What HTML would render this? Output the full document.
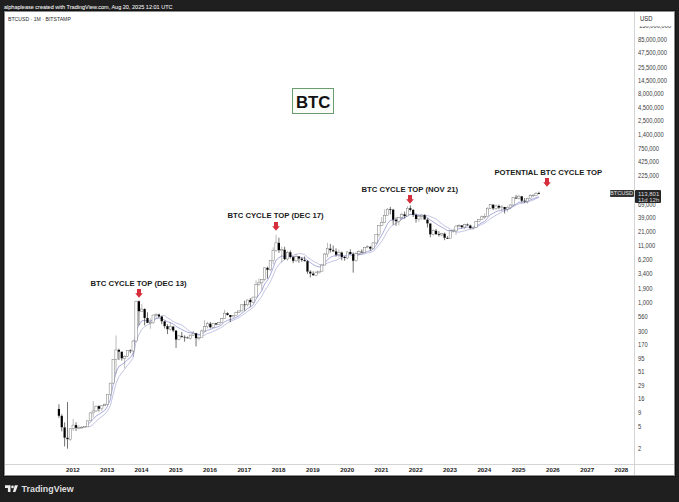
<!DOCTYPE html>
<html><head><meta charset="utf-8">
<style>
html,body{margin:0;padding:0;}
body{width:679px;height:502px;background:#1f1f1f;position:relative;overflow:hidden;font-family:"Liberation Sans", sans-serif;}
.t{position:absolute;white-space:nowrap;line-height:1;}
#panel{position:absolute;left:5px;top:12px;width:669px;height:463px;background:#fff;}
.pl{position:absolute;left:638px;font-size:6.45px;color:#3c3c3c;white-space:nowrap;line-height:1;transform:scaleX(0.9);transform-origin:0 0;}
.yl{position:absolute;top:467.2px;font-size:6.2px;font-weight:bold;color:#222;white-space:nowrap;line-height:1;transform:translateX(-50%);}
.ann{position:absolute;font-size:7.72px;font-weight:bold;color:#1a1a1a;white-space:nowrap;line-height:1;}
</style></head><body>
<div class="t" style="left:4px;top:3.7px;font-size:6.2px;letter-spacing:0px;color:#f4f4f4;-webkit-text-stroke:0.05px #f4f4f4;transform:scaleX(0.893);transform-origin:0 0;">alphaplease created with TradingView.com, Aug 20, 2025 12:01 UTC</div>
<div style="position:absolute;left:3px;top:10px;width:673px;height:467px;background:#121212"></div><div style="position:absolute;left:4px;top:11px;width:671px;height:465px;background:#8c8c8c"></div><div id="panel"></div>
<div class="t" style="left:8px;top:16.9px;font-size:5.7px;color:#2a2a2a;transform:scaleX(0.905);transform-origin:0 0;">BTCUSD · 1M · BITSTAMP</div>
<div style="position:absolute;left:634px;top:12px;width:1px;height:463px;background:#d4d4d4"></div>
<div style="position:absolute;left:5px;top:464px;width:669px;height:1px;background:#d4d4d4"></div>
<svg width="679" height="502" viewBox="0 0 679 502" style="position:absolute;left:0;top:0">
<path d="M87.48,426.87 L90.34,426.42 L93.20,424.43 L96.06,421.23 L98.91,418.73 L101.77,416.53 L104.63,414.49 L107.48,410.99 L110.34,405.67 L113.20,394.28 L116.06,383.51 L118.91,376.72 L121.77,372.84 L124.63,369.23 L127.48,365.31 L130.34,361.97 L133.20,357.53 L136.05,341.28 L138.91,334.80 L141.77,329.36 L144.62,326.65 L147.48,325.00 L150.34,323.40 L153.20,320.97 L156.05,318.75 L158.91,317.02 L161.77,315.79 L164.62,315.15 L167.48,318.02 L170.34,319.43 L173.19,321.51 L176.05,323.05 L178.91,323.99 L181.77,325.02 L184.62,327.14 L187.48,329.59 L190.34,331.73 L193.19,333.10 L196.05,334.29 L198.91,335.10 L201.76,335.62 L204.62,335.15 L207.48,333.50 L210.34,332.66 L213.19,331.30 L216.05,330.10 L218.91,328.72 L221.76,327.14 L224.62,325.01 L227.48,323.04 L230.34,321.48 L233.19,320.19 L236.05,318.87 L238.91,317.65 L241.76,315.48 L244.62,313.72 L247.48,311.35 L250.33,309.59 L253.19,307.49 L256.05,303.80 L258.91,300.20 L261.76,296.40 L264.62,290.83 L267.48,286.82 L270.33,281.67 L273.19,275.36 L276.05,268.51 L278.90,264.73 L281.76,261.37 L284.62,259.56 L287.48,257.48 L290.33,256.08 L293.19,255.15 L296.05,254.38 L298.90,253.72 L301.76,253.68 L304.62,254.57 L307.47,257.20 L310.33,259.10 L313.19,261.31 L316.05,262.38 L318.90,264.27 L321.76,265.13 L324.62,264.28 L327.47,263.12 L330.33,262.03 L333.19,261.01 L336.04,260.35 L338.90,258.75 L341.76,257.61 L344.62,256.55 L347.47,255.07 L350.33,253.95 L353.19,253.68 L356.04,253.66 L358.90,254.00 L361.76,254.23 L364.61,253.80 L367.47,252.99 L370.33,252.61 L373.19,251.20 L376.04,248.61 L378.90,245.05 L381.76,241.25 L384.61,236.28 L387.47,231.11 L390.33,227.03 L393.18,224.94 L396.04,223.32 L398.90,221.43 L401.75,219.31 L404.61,217.70 L407.47,215.63 L410.33,214.34 L413.18,213.76 L416.04,214.05 L418.90,214.76 L421.75,215.32 L424.61,215.30 L427.47,215.45 L430.32,216.50 L433.18,217.70 L436.04,218.97 L438.90,221.39 L441.75,223.72 L444.61,225.76 L447.47,227.44 L450.32,229.08 L453.18,231.06 L456.04,231.92 L458.90,232.16 L461.75,231.47 L464.61,230.80 L467.47,229.98 L470.32,229.41 L473.18,228.86 L476.04,227.44 L478.89,225.82 L481.75,224.45 L484.61,223.13 L487.47,221.08 L490.32,218.69 L493.18,216.94 L496.04,215.15 L498.89,213.64 L501.75,212.01 L504.61,210.74 L507.46,209.67 L510.32,208.50 L513.18,206.68 L516.04,205.09 L518.89,203.88 L521.75,203.51 L524.61,202.90 L527.46,202.18 L530.32,201.09 L533.18,200.03 L536.03,198.69 L538.89,197.56" fill="none" stroke="#a9abd6" stroke-width="0.7"/>
<path d="M87.48,424.97 L90.34,422.00 L93.20,419.34 L96.06,416.05 L98.91,414.40 L101.77,412.41 L104.63,410.53 L107.48,406.35 L110.34,399.50 L113.20,384.25 L116.06,372.26 L118.91,366.44 L121.77,364.57 L124.63,362.65 L127.48,359.69 L130.34,357.67 L133.20,353.24 L136.05,330.37 L138.91,325.10 L141.77,320.88 L144.62,320.27 L147.48,320.76 L150.34,321.14 L153.20,319.78 L156.05,318.63 L158.91,318.18 L161.77,318.78 L164.62,320.07 L167.48,321.64 L170.34,322.56 L173.19,323.95 L176.05,326.34 L178.91,327.96 L181.77,329.49 L184.62,330.90 L187.48,332.19 L190.34,332.74 L193.19,332.85 L196.05,333.83 L198.91,334.54 L201.76,333.78 L204.62,332.18 L207.48,330.21 L210.34,329.59 L213.19,328.18 L216.05,327.38 L218.91,326.36 L221.76,324.62 L224.62,321.84 L227.48,320.30 L230.34,319.59 L233.19,318.72 L236.05,317.31 L238.91,315.89 L241.76,313.21 L244.62,311.27 L247.48,308.53 L250.33,307.12 L253.19,304.73 L256.05,299.08 L258.91,294.81 L261.76,290.82 L264.62,284.06 L267.48,280.43 L270.33,274.91 L273.19,267.62 L276.05,260.12 L278.90,257.76 L281.76,255.91 L284.62,256.50 L287.48,255.58 L290.33,255.88 L293.19,256.79 L296.05,256.71 L298.90,257.08 L301.76,257.64 L304.62,258.30 L307.47,260.42 L310.33,262.53 L313.19,264.58 L316.05,266.01 L318.90,266.96 L321.76,266.57 L324.62,263.46 L327.47,259.62 L330.33,257.41 L333.19,256.07 L336.04,255.80 L338.90,255.09 L341.76,255.46 L344.62,255.95 L347.47,255.10 L350.33,254.89 L353.19,255.95 L356.04,255.51 L358.90,254.70 L361.76,254.24 L364.61,252.72 L367.47,251.42 L370.33,250.84 L373.19,249.02 L376.04,245.34 L378.90,239.84 L381.76,235.20 L384.61,229.63 L387.47,223.85 L390.33,220.22 L393.18,220.12 L396.04,220.34 L398.90,219.69 L401.75,218.52 L404.61,218.00 L407.47,215.68 L410.33,214.40 L413.18,214.47 L416.04,215.31 L418.90,215.51 L421.75,215.44 L424.61,216.20 L427.47,217.48 L430.32,220.02 L433.18,221.80 L436.04,223.81 L438.90,225.66 L441.75,227.06 L444.61,228.84 L447.47,230.51 L450.32,230.59 L453.18,230.66 L456.04,229.65 L458.90,228.73 L461.75,228.40 L464.61,227.55 L467.47,227.12 L470.32,227.34 L473.18,227.33 L476.04,226.02 L478.89,224.57 L481.75,222.80 L484.61,221.44 L487.47,218.13 L490.32,214.74 L493.18,213.33 L496.04,211.66 L498.89,210.79 L501.75,209.98 L504.61,209.80 L507.46,209.31 L510.32,208.39 L513.18,205.81 L516.04,204.13 L518.89,202.32 L521.75,202.00 L524.61,201.86 L527.46,201.08 L530.32,199.91 L533.18,198.89 L536.03,197.68 L538.89,196.85" fill="none" stroke="#7a7ec8" stroke-width="0.65"/>
<g>
<line x1="58.92" y1="404.21" x2="58.92" y2="408.98" stroke="#111" stroke-width="0.6"/><line x1="58.92" y1="415.82" x2="58.92" y2="417.90" stroke="#111" stroke-width="0.6"/><rect x="57.82" y="408.98" width="2.20" height="6.84" fill="#000"/><line x1="61.77" y1="414.18" x2="61.77" y2="415.82" stroke="#111" stroke-width="0.6"/><line x1="61.77" y1="427.34" x2="61.77" y2="431.39" stroke="#111" stroke-width="0.6"/><rect x="60.67" y="415.82" width="2.20" height="11.52" fill="#000"/><line x1="64.63" y1="422.33" x2="64.63" y2="427.34" stroke="#111" stroke-width="0.6"/><line x1="64.63" y1="437.72" x2="64.63" y2="446.45" stroke="#111" stroke-width="0.6"/><rect x="63.53" y="427.34" width="2.20" height="10.39" fill="#000"/><line x1="67.49" y1="402.07" x2="67.49" y2="437.72" stroke="#111" stroke-width="0.6"/><line x1="67.49" y1="439.23" x2="67.49" y2="448.66" stroke="#111" stroke-width="0.6"/><rect x="66.39" y="437.72" width="2.20" height="1.50" fill="#000"/><line x1="70.34" y1="428.29" x2="70.34" y2="428.78" stroke="#666" stroke-width="0.45"/><line x1="70.34" y1="439.23" x2="70.34" y2="440.83" stroke="#666" stroke-width="0.45"/><rect x="69.14" y="428.78" width="2.4" height="10.45" fill="#fff" stroke="#6a6a6a" stroke-width="0.45"/><line x1="73.20" y1="418.85" x2="73.20" y2="425.12" stroke="#666" stroke-width="0.45"/><line x1="73.20" y1="428.78" x2="73.20" y2="430.85" stroke="#666" stroke-width="0.45"/><rect x="72.00" y="425.12" width="2.4" height="3.66" fill="#fff" stroke="#6a6a6a" stroke-width="0.45"/><line x1="76.06" y1="422.33" x2="76.06" y2="425.12" stroke="#111" stroke-width="0.6"/><line x1="76.06" y1="427.81" x2="76.06" y2="430.85" stroke="#111" stroke-width="0.6"/><rect x="74.96" y="425.12" width="2.20" height="2.69" fill="#000"/><line x1="78.91" y1="425.54" x2="78.91" y2="427.41" stroke="#666" stroke-width="0.45"/><line x1="78.91" y1="428.21" x2="78.91" y2="429.28" stroke="#666" stroke-width="0.45"/><rect x="77.71" y="427.41" width="2.4" height="0.80" fill="#fff" stroke="#6a6a6a" stroke-width="0.45"/><line x1="81.77" y1="425.98" x2="81.77" y2="427.17" stroke="#666" stroke-width="0.45"/><line x1="81.77" y1="427.97" x2="81.77" y2="428.78" stroke="#666" stroke-width="0.45"/><rect x="80.57" y="427.17" width="2.4" height="0.80" fill="#fff" stroke="#6a6a6a" stroke-width="0.45"/><line x1="84.63" y1="426.42" x2="84.63" y2="426.70" stroke="#666" stroke-width="0.45"/><line x1="84.63" y1="427.50" x2="84.63" y2="427.81" stroke="#666" stroke-width="0.45"/><rect x="83.43" y="426.70" width="2.4" height="0.80" fill="#fff" stroke="#6a6a6a" stroke-width="0.45"/><line x1="87.48" y1="420.52" x2="87.48" y2="420.87" stroke="#666" stroke-width="0.45"/><line x1="87.48" y1="426.87" x2="87.48" y2="426.87" stroke="#666" stroke-width="0.45"/><rect x="86.28" y="420.87" width="2.4" height="6.00" fill="#fff" stroke="#6a6a6a" stroke-width="0.45"/><line x1="90.34" y1="412.39" x2="90.34" y2="412.89" stroke="#666" stroke-width="0.45"/><line x1="90.34" y1="420.87" x2="90.34" y2="421.23" stroke="#666" stroke-width="0.45"/><rect x="89.14" y="412.89" width="2.4" height="7.98" fill="#fff" stroke="#6a6a6a" stroke-width="0.45"/><line x1="93.20" y1="401.15" x2="93.20" y2="410.97" stroke="#666" stroke-width="0.45"/><line x1="93.20" y1="412.89" x2="93.20" y2="417.59" stroke="#666" stroke-width="0.45"/><rect x="92.00" y="410.97" width="2.4" height="1.92" fill="#fff" stroke="#6a6a6a" stroke-width="0.45"/><line x1="96.06" y1="405.27" x2="96.06" y2="406.19" stroke="#666" stroke-width="0.45"/><line x1="96.06" y1="410.97" x2="96.06" y2="411.91" stroke="#666" stroke-width="0.45"/><rect x="94.86" y="406.19" width="2.4" height="4.78" fill="#fff" stroke="#6a6a6a" stroke-width="0.45"/><line x1="98.91" y1="405.27" x2="98.91" y2="406.19" stroke="#111" stroke-width="0.6"/><line x1="98.91" y1="408.77" x2="98.91" y2="411.43" stroke="#111" stroke-width="0.6"/><rect x="97.81" y="406.19" width="2.20" height="2.58" fill="#000"/><line x1="101.77" y1="405.64" x2="101.77" y2="405.82" stroke="#666" stroke-width="0.45"/><line x1="101.77" y1="408.77" x2="101.77" y2="411.20" stroke="#666" stroke-width="0.45"/><rect x="100.57" y="405.82" width="2.4" height="2.95" fill="#fff" stroke="#6a6a6a" stroke-width="0.45"/><line x1="104.63" y1="403.53" x2="104.63" y2="404.21" stroke="#666" stroke-width="0.45"/><line x1="104.63" y1="405.82" x2="104.63" y2="406.01" stroke="#666" stroke-width="0.45"/><rect x="103.43" y="404.21" width="2.4" height="1.61" fill="#fff" stroke="#6a6a6a" stroke-width="0.45"/><line x1="107.48" y1="394.60" x2="107.48" y2="394.60" stroke="#666" stroke-width="0.45"/><line x1="107.48" y1="404.21" x2="107.48" y2="405.27" stroke="#666" stroke-width="0.45"/><rect x="106.28" y="394.60" width="2.4" height="9.61" fill="#fff" stroke="#6a6a6a" stroke-width="0.45"/><line x1="110.34" y1="383.13" x2="110.34" y2="383.13" stroke="#666" stroke-width="0.45"/><line x1="110.34" y1="394.60" x2="110.34" y2="396.14" stroke="#666" stroke-width="0.45"/><rect x="109.14" y="383.13" width="2.4" height="11.48" fill="#fff" stroke="#6a6a6a" stroke-width="0.45"/><line x1="113.20" y1="358.79" x2="113.20" y2="359.29" stroke="#666" stroke-width="0.45"/><line x1="113.20" y1="383.13" x2="113.20" y2="383.41" stroke="#666" stroke-width="0.45"/><rect x="112.00" y="359.29" width="2.4" height="23.84" fill="#fff" stroke="#6a6a6a" stroke-width="0.45"/><line x1="116.06" y1="335.45" x2="116.06" y2="349.93" stroke="#666" stroke-width="0.45"/><line x1="116.06" y1="359.29" x2="116.06" y2="373.74" stroke="#666" stroke-width="0.45"/><rect x="114.86" y="349.93" width="2.4" height="9.35" fill="#fff" stroke="#6a6a6a" stroke-width="0.45"/><line x1="118.91" y1="348.63" x2="118.91" y2="349.93" stroke="#111" stroke-width="0.6"/><line x1="118.91" y1="351.67" x2="118.91" y2="360.05" stroke="#111" stroke-width="0.6"/><rect x="117.81" y="349.93" width="2.20" height="1.74" fill="#000"/><line x1="121.77" y1="351.67" x2="121.77" y2="351.67" stroke="#111" stroke-width="0.6"/><line x1="121.77" y1="358.31" x2="121.77" y2="360.58" stroke="#111" stroke-width="0.6"/><rect x="120.67" y="351.67" width="2.20" height="6.64" fill="#000"/><line x1="124.63" y1="355.17" x2="124.63" y2="356.24" stroke="#666" stroke-width="0.45"/><line x1="124.63" y1="358.31" x2="124.63" y2="368.36" stroke="#666" stroke-width="0.45"/><rect x="123.43" y="356.24" width="2.4" height="2.07" fill="#fff" stroke="#6a6a6a" stroke-width="0.45"/><line x1="127.48" y1="350.44" x2="127.48" y2="350.61" stroke="#666" stroke-width="0.45"/><line x1="127.48" y1="356.24" x2="127.48" y2="357.14" stroke="#666" stroke-width="0.45"/><rect x="126.28" y="350.61" width="2.4" height="5.63" fill="#fff" stroke="#6a6a6a" stroke-width="0.45"/><line x1="130.34" y1="349.44" x2="130.34" y2="350.39" stroke="#111" stroke-width="0.6"/><line x1="130.34" y1="351.19" x2="130.34" y2="353.36" stroke="#111" stroke-width="0.6"/><rect x="129.24" y="350.39" width="2.20" height="0.80" fill="#000"/><line x1="133.20" y1="339.89" x2="133.20" y2="341.00" stroke="#666" stroke-width="0.45"/><line x1="133.20" y1="350.96" x2="133.20" y2="356.91" stroke="#666" stroke-width="0.45"/><rect x="132.00" y="341.00" width="2.4" height="9.96" fill="#fff" stroke="#6a6a6a" stroke-width="0.45"/><line x1="136.05" y1="300.48" x2="136.05" y2="301.20" stroke="#666" stroke-width="0.45"/><line x1="136.05" y1="341.00" x2="136.05" y2="341.94" stroke="#666" stroke-width="0.45"/><rect x="134.85" y="301.20" width="2.4" height="39.81" fill="#fff" stroke="#6a6a6a" stroke-width="0.45"/><line x1="138.91" y1="300.48" x2="138.91" y2="301.20" stroke="#111" stroke-width="0.6"/><line x1="138.91" y1="311.26" x2="138.91" y2="325.33" stroke="#111" stroke-width="0.6"/><rect x="137.81" y="301.20" width="2.20" height="10.07" fill="#000"/><line x1="141.77" y1="304.00" x2="141.77" y2="309.05" stroke="#666" stroke-width="0.45"/><line x1="141.77" y1="311.26" x2="141.77" y2="311.33" stroke="#666" stroke-width="0.45"/><rect x="140.57" y="309.05" width="2.4" height="2.21" fill="#fff" stroke="#6a6a6a" stroke-width="0.45"/><line x1="144.62" y1="308.34" x2="144.62" y2="309.05" stroke="#111" stroke-width="0.6"/><line x1="144.62" y1="317.96" x2="144.62" y2="325.33" stroke="#111" stroke-width="0.6"/><rect x="143.53" y="309.05" width="2.20" height="8.91" fill="#000"/><line x1="147.48" y1="312.30" x2="147.48" y2="317.96" stroke="#111" stroke-width="0.6"/><line x1="147.48" y1="322.85" x2="147.48" y2="323.11" stroke="#111" stroke-width="0.6"/><rect x="146.38" y="317.96" width="2.20" height="4.89" fill="#000"/><line x1="150.34" y1="318.34" x2="150.34" y2="322.40" stroke="#666" stroke-width="0.45"/><line x1="150.34" y1="323.20" x2="150.34" y2="328.77" stroke="#666" stroke-width="0.45"/><rect x="149.14" y="322.40" width="2.4" height="0.80" fill="#fff" stroke="#6a6a6a" stroke-width="0.45"/><line x1="153.20" y1="314.76" x2="153.20" y2="315.02" stroke="#666" stroke-width="0.45"/><line x1="153.20" y1="322.74" x2="153.20" y2="324.19" stroke="#666" stroke-width="0.45"/><rect x="152.00" y="315.02" width="2.4" height="7.73" fill="#fff" stroke="#6a6a6a" stroke-width="0.45"/><line x1="156.05" y1="312.98" x2="156.05" y2="314.36" stroke="#666" stroke-width="0.45"/><line x1="156.05" y1="315.16" x2="156.05" y2="317.92" stroke="#666" stroke-width="0.45"/><rect x="154.85" y="314.36" width="2.4" height="0.80" fill="#fff" stroke="#6a6a6a" stroke-width="0.45"/><line x1="158.91" y1="313.67" x2="158.91" y2="314.50" stroke="#111" stroke-width="0.6"/><line x1="158.91" y1="316.48" x2="158.91" y2="317.50" stroke="#111" stroke-width="0.6"/><rect x="157.81" y="314.50" width="2.20" height="1.98" fill="#000"/><line x1="161.77" y1="315.89" x2="161.77" y2="316.48" stroke="#111" stroke-width="0.6"/><line x1="161.77" y1="321.33" x2="161.77" y2="324.19" stroke="#111" stroke-width="0.6"/><rect x="160.67" y="316.48" width="2.20" height="4.85" fill="#000"/><line x1="164.62" y1="320.61" x2="164.62" y2="321.33" stroke="#111" stroke-width="0.6"/><line x1="164.62" y1="326.10" x2="164.62" y2="328.44" stroke="#111" stroke-width="0.6"/><rect x="163.52" y="321.33" width="2.20" height="4.77" fill="#000"/><line x1="167.48" y1="324.19" x2="167.48" y2="326.10" stroke="#111" stroke-width="0.6"/><line x1="167.48" y1="329.25" x2="167.48" y2="334.05" stroke="#111" stroke-width="0.6"/><rect x="166.38" y="326.10" width="2.20" height="3.15" fill="#000"/><line x1="170.34" y1="322.08" x2="170.34" y2="326.65" stroke="#666" stroke-width="0.45"/><line x1="170.34" y1="329.25" x2="170.34" y2="330.52" stroke="#666" stroke-width="0.45"/><rect x="169.14" y="326.65" width="2.4" height="2.60" fill="#fff" stroke="#6a6a6a" stroke-width="0.45"/><line x1="173.19" y1="325.92" x2="173.19" y2="326.65" stroke="#111" stroke-width="0.6"/><line x1="173.19" y1="330.52" x2="173.19" y2="332.03" stroke="#111" stroke-width="0.6"/><rect x="172.09" y="326.65" width="2.20" height="3.88" fill="#000"/><line x1="176.05" y1="330.52" x2="176.05" y2="330.52" stroke="#111" stroke-width="0.6"/><line x1="176.05" y1="339.57" x2="176.05" y2="347.85" stroke="#111" stroke-width="0.6"/><rect x="174.95" y="330.52" width="2.20" height="9.04" fill="#000"/><line x1="178.91" y1="334.91" x2="178.91" y2="335.90" stroke="#666" stroke-width="0.45"/><line x1="178.91" y1="339.57" x2="178.91" y2="340.33" stroke="#666" stroke-width="0.45"/><rect x="177.71" y="335.90" width="2.4" height="3.66" fill="#fff" stroke="#6a6a6a" stroke-width="0.45"/><line x1="181.77" y1="332.03" x2="181.77" y2="335.90" stroke="#111" stroke-width="0.6"/><line x1="181.77" y1="336.84" x2="181.77" y2="337.71" stroke="#111" stroke-width="0.6"/><rect x="180.67" y="335.90" width="2.20" height="0.93" fill="#000"/><line x1="184.62" y1="335.36" x2="184.62" y2="336.82" stroke="#111" stroke-width="0.6"/><line x1="184.62" y1="337.62" x2="184.62" y2="341.70" stroke="#111" stroke-width="0.6"/><rect x="183.52" y="336.82" width="2.20" height="0.80" fill="#000"/><line x1="187.48" y1="336.55" x2="187.48" y2="337.51" stroke="#111" stroke-width="0.6"/><line x1="187.48" y1="338.31" x2="187.48" y2="338.41" stroke="#111" stroke-width="0.6"/><rect x="186.38" y="337.51" width="2.20" height="0.80" fill="#000"/><line x1="190.34" y1="334.65" x2="190.34" y2="335.09" stroke="#666" stroke-width="0.45"/><line x1="190.34" y1="338.21" x2="190.34" y2="339.78" stroke="#666" stroke-width="0.45"/><rect x="189.14" y="335.09" width="2.4" height="3.12" fill="#fff" stroke="#6a6a6a" stroke-width="0.45"/><line x1="193.19" y1="330.67" x2="193.19" y2="333.30" stroke="#666" stroke-width="0.45"/><line x1="193.19" y1="335.09" x2="193.19" y2="336.08" stroke="#666" stroke-width="0.45"/><rect x="191.99" y="333.30" width="2.4" height="1.79" fill="#fff" stroke="#6a6a6a" stroke-width="0.45"/><line x1="196.05" y1="332.82" x2="196.05" y2="333.30" stroke="#111" stroke-width="0.6"/><line x1="196.05" y1="338.21" x2="196.05" y2="346.37" stroke="#111" stroke-width="0.6"/><rect x="194.95" y="333.30" width="2.20" height="4.91" fill="#000"/><line x1="198.91" y1="336.74" x2="198.91" y2="337.51" stroke="#666" stroke-width="0.45"/><line x1="198.91" y1="338.31" x2="198.91" y2="340.33" stroke="#666" stroke-width="0.45"/><rect x="197.71" y="337.51" width="2.4" height="0.80" fill="#fff" stroke="#6a6a6a" stroke-width="0.45"/><line x1="201.76" y1="329.53" x2="201.76" y2="330.96" stroke="#666" stroke-width="0.45"/><line x1="201.76" y1="337.61" x2="201.76" y2="337.71" stroke="#666" stroke-width="0.45"/><rect x="200.56" y="330.96" width="2.4" height="6.65" fill="#fff" stroke="#6a6a6a" stroke-width="0.45"/><line x1="204.62" y1="320.04" x2="204.62" y2="326.71" stroke="#666" stroke-width="0.45"/><line x1="204.62" y1="330.96" x2="204.62" y2="331.26" stroke="#666" stroke-width="0.45"/><rect x="203.42" y="326.71" width="2.4" height="4.26" fill="#fff" stroke="#6a6a6a" stroke-width="0.45"/><line x1="207.48" y1="321.77" x2="207.48" y2="323.65" stroke="#666" stroke-width="0.45"/><line x1="207.48" y1="326.71" x2="207.48" y2="328.44" stroke="#666" stroke-width="0.45"/><rect x="206.28" y="323.65" width="2.4" height="3.06" fill="#fff" stroke="#6a6a6a" stroke-width="0.45"/><line x1="210.34" y1="321.98" x2="210.34" y2="323.65" stroke="#111" stroke-width="0.6"/><line x1="210.34" y1="327.27" x2="210.34" y2="328.44" stroke="#111" stroke-width="0.6"/><rect x="209.24" y="323.65" width="2.20" height="3.62" fill="#000"/><line x1="213.19" y1="322.85" x2="213.19" y2="323.27" stroke="#666" stroke-width="0.45"/><line x1="213.19" y1="327.27" x2="213.19" y2="327.78" stroke="#666" stroke-width="0.45"/><rect x="211.99" y="323.27" width="2.4" height="4.00" fill="#fff" stroke="#6a6a6a" stroke-width="0.45"/><line x1="216.05" y1="323.11" x2="216.05" y2="323.27" stroke="#111" stroke-width="0.6"/><line x1="216.05" y1="324.42" x2="216.05" y2="325.33" stroke="#111" stroke-width="0.6"/><rect x="214.95" y="323.27" width="2.20" height="1.15" fill="#000"/><line x1="218.91" y1="321.72" x2="218.91" y2="322.69" stroke="#666" stroke-width="0.45"/><line x1="218.91" y1="324.42" x2="218.91" y2="324.47" stroke="#666" stroke-width="0.45"/><rect x="217.71" y="322.69" width="2.4" height="1.73" fill="#fff" stroke="#6a6a6a" stroke-width="0.45"/><line x1="221.76" y1="317.92" x2="221.76" y2="318.73" stroke="#666" stroke-width="0.45"/><line x1="221.76" y1="322.69" x2="221.76" y2="323.32" stroke="#666" stroke-width="0.45"/><rect x="220.56" y="318.73" width="2.4" height="3.96" fill="#fff" stroke="#6a6a6a" stroke-width="0.45"/><line x1="224.62" y1="309.78" x2="224.62" y2="313.18" stroke="#666" stroke-width="0.45"/><line x1="224.62" y1="318.73" x2="224.62" y2="318.78" stroke="#666" stroke-width="0.45"/><rect x="223.42" y="313.18" width="2.4" height="5.55" fill="#fff" stroke="#6a6a6a" stroke-width="0.45"/><line x1="227.48" y1="312.30" x2="227.48" y2="313.18" stroke="#111" stroke-width="0.6"/><line x1="227.48" y1="314.98" x2="227.48" y2="315.51" stroke="#111" stroke-width="0.6"/><rect x="226.38" y="313.18" width="2.20" height="1.79" fill="#000"/><line x1="230.34" y1="314.94" x2="230.34" y2="314.98" stroke="#111" stroke-width="0.6"/><line x1="230.34" y1="316.96" x2="230.34" y2="322.08" stroke="#111" stroke-width="0.6"/><rect x="229.24" y="314.98" width="2.20" height="1.98" fill="#000"/><line x1="233.19" y1="315.13" x2="233.19" y2="315.54" stroke="#666" stroke-width="0.45"/><line x1="233.19" y1="316.96" x2="233.19" y2="317.09" stroke="#666" stroke-width="0.45"/><rect x="231.99" y="315.54" width="2.4" height="1.42" fill="#fff" stroke="#6a6a6a" stroke-width="0.45"/><line x1="236.05" y1="311.65" x2="236.05" y2="312.37" stroke="#666" stroke-width="0.45"/><line x1="236.05" y1="315.54" x2="236.05" y2="315.70" stroke="#666" stroke-width="0.45"/><rect x="234.85" y="312.37" width="2.4" height="3.18" fill="#fff" stroke="#6a6a6a" stroke-width="0.45"/><line x1="238.91" y1="310.45" x2="238.91" y2="310.95" stroke="#666" stroke-width="0.45"/><line x1="238.91" y1="312.37" x2="238.91" y2="312.88" stroke="#666" stroke-width="0.45"/><rect x="237.71" y="310.95" width="2.4" height="1.42" fill="#fff" stroke="#6a6a6a" stroke-width="0.45"/><line x1="241.76" y1="304.47" x2="241.76" y2="304.81" stroke="#666" stroke-width="0.45"/><line x1="241.76" y1="310.95" x2="241.76" y2="311.01" stroke="#666" stroke-width="0.45"/><rect x="240.56" y="304.81" width="2.4" height="6.14" fill="#fff" stroke="#6a6a6a" stroke-width="0.45"/><line x1="244.62" y1="300.75" x2="244.62" y2="304.42" stroke="#111" stroke-width="0.6"/><line x1="244.62" y1="305.22" x2="244.62" y2="310.70" stroke="#111" stroke-width="0.6"/><rect x="243.52" y="304.42" width="2.20" height="0.80" fill="#000"/><line x1="247.48" y1="299.76" x2="247.48" y2="299.95" stroke="#666" stroke-width="0.45"/><line x1="247.48" y1="304.83" x2="247.48" y2="306.20" stroke="#666" stroke-width="0.45"/><rect x="246.28" y="299.95" width="2.4" height="4.88" fill="#fff" stroke="#6a6a6a" stroke-width="0.45"/><line x1="250.33" y1="298.07" x2="250.33" y2="299.95" stroke="#111" stroke-width="0.6"/><line x1="250.33" y1="302.21" x2="250.33" y2="306.71" stroke="#111" stroke-width="0.6"/><rect x="249.23" y="299.95" width="2.20" height="2.26" fill="#000"/><line x1="253.19" y1="297.01" x2="253.19" y2="297.05" stroke="#666" stroke-width="0.45"/><line x1="253.19" y1="302.21" x2="253.19" y2="302.64" stroke="#666" stroke-width="0.45"/><rect x="251.99" y="297.05" width="2.4" height="5.16" fill="#fff" stroke="#6a6a6a" stroke-width="0.45"/><line x1="256.05" y1="280.37" x2="256.05" y2="284.61" stroke="#666" stroke-width="0.45"/><line x1="256.05" y1="297.05" x2="256.05" y2="297.08" stroke="#666" stroke-width="0.45"/><rect x="254.85" y="284.61" width="2.4" height="12.44" fill="#fff" stroke="#6a6a6a" stroke-width="0.45"/><line x1="258.91" y1="278.58" x2="258.91" y2="282.86" stroke="#666" stroke-width="0.45"/><line x1="258.91" y1="284.61" x2="258.91" y2="285.65" stroke="#666" stroke-width="0.45"/><rect x="257.71" y="282.86" width="2.4" height="1.75" fill="#fff" stroke="#6a6a6a" stroke-width="0.45"/><line x1="261.76" y1="279.06" x2="261.76" y2="279.46" stroke="#666" stroke-width="0.45"/><line x1="261.76" y1="282.86" x2="261.76" y2="289.93" stroke="#666" stroke-width="0.45"/><rect x="260.56" y="279.46" width="2.4" height="3.40" fill="#fff" stroke="#6a6a6a" stroke-width="0.45"/><line x1="264.62" y1="267.73" x2="264.62" y2="267.83" stroke="#666" stroke-width="0.45"/><line x1="264.62" y1="279.46" x2="264.62" y2="281.14" stroke="#666" stroke-width="0.45"/><rect x="263.42" y="267.83" width="2.4" height="11.63" fill="#fff" stroke="#6a6a6a" stroke-width="0.45"/><line x1="267.48" y1="266.63" x2="267.48" y2="267.83" stroke="#111" stroke-width="0.6"/><line x1="267.48" y1="269.83" x2="267.48" y2="278.58" stroke="#111" stroke-width="0.6"/><rect x="266.38" y="267.83" width="2.20" height="2.00" fill="#000"/><line x1="270.33" y1="260.54" x2="270.33" y2="260.64" stroke="#666" stroke-width="0.45"/><line x1="270.33" y1="269.83" x2="270.33" y2="271.15" stroke="#666" stroke-width="0.45"/><rect x="269.13" y="260.64" width="2.4" height="9.19" fill="#fff" stroke="#6a6a6a" stroke-width="0.45"/><line x1="273.19" y1="247.35" x2="273.19" y2="250.63" stroke="#666" stroke-width="0.45"/><line x1="273.19" y1="260.64" x2="273.19" y2="264.32" stroke="#666" stroke-width="0.45"/><rect x="271.99" y="250.63" width="2.4" height="10.01" fill="#fff" stroke="#6a6a6a" stroke-width="0.45"/><line x1="276.05" y1="234.66" x2="276.05" y2="242.82" stroke="#666" stroke-width="0.45"/><line x1="276.05" y1="250.63" x2="276.05" y2="251.59" stroke="#666" stroke-width="0.45"/><rect x="274.85" y="242.82" width="2.4" height="7.82" fill="#fff" stroke="#6a6a6a" stroke-width="0.45"/><line x1="278.90" y1="237.78" x2="278.90" y2="242.82" stroke="#111" stroke-width="0.6"/><line x1="278.90" y1="250.17" x2="278.90" y2="252.85" stroke="#111" stroke-width="0.6"/><rect x="277.80" y="242.82" width="2.20" height="7.35" fill="#000"/><line x1="281.76" y1="246.55" x2="281.76" y2="249.54" stroke="#666" stroke-width="0.45"/><line x1="281.76" y1="250.34" x2="281.76" y2="262.68" stroke="#666" stroke-width="0.45"/><rect x="280.56" y="249.54" width="2.4" height="0.80" fill="#fff" stroke="#6a6a6a" stroke-width="0.45"/><line x1="284.62" y1="246.75" x2="284.62" y2="249.71" stroke="#111" stroke-width="0.6"/><line x1="284.62" y1="259.04" x2="284.62" y2="260.07" stroke="#111" stroke-width="0.6"/><rect x="283.52" y="249.71" width="2.20" height="9.33" fill="#000"/><line x1="287.48" y1="250.99" x2="287.48" y2="252.21" stroke="#666" stroke-width="0.45"/><line x1="287.48" y1="259.04" x2="287.48" y2="260.72" stroke="#666" stroke-width="0.45"/><rect x="286.28" y="252.21" width="2.4" height="6.82" fill="#fff" stroke="#6a6a6a" stroke-width="0.45"/><line x1="290.33" y1="250.40" x2="290.33" y2="252.21" stroke="#111" stroke-width="0.6"/><line x1="290.33" y1="257.10" x2="290.33" y2="258.60" stroke="#111" stroke-width="0.6"/><rect x="289.23" y="252.21" width="2.20" height="4.88" fill="#000"/><line x1="293.19" y1="256.24" x2="293.19" y2="257.10" stroke="#111" stroke-width="0.6"/><line x1="293.19" y1="260.83" x2="293.19" y2="263.16" stroke="#111" stroke-width="0.6"/><rect x="292.09" y="257.10" width="2.20" height="3.73" fill="#000"/><line x1="296.05" y1="254.18" x2="296.05" y2="256.39" stroke="#666" stroke-width="0.45"/><line x1="296.05" y1="260.83" x2="296.05" y2="261.91" stroke="#666" stroke-width="0.45"/><rect x="294.85" y="256.39" width="2.4" height="4.43" fill="#fff" stroke="#6a6a6a" stroke-width="0.45"/><line x1="298.90" y1="256.30" x2="298.90" y2="256.39" stroke="#111" stroke-width="0.6"/><line x1="298.90" y1="258.64" x2="298.90" y2="262.76" stroke="#111" stroke-width="0.6"/><rect x="297.80" y="256.39" width="2.20" height="2.24" fill="#000"/><line x1="301.76" y1="257.41" x2="301.76" y2="258.64" stroke="#111" stroke-width="0.6"/><line x1="301.76" y1="260.04" x2="301.76" y2="261.79" stroke="#111" stroke-width="0.6"/><rect x="300.66" y="258.64" width="2.20" height="1.40" fill="#000"/><line x1="304.62" y1="256.54" x2="304.62" y2="260.04" stroke="#111" stroke-width="0.6"/><line x1="304.62" y1="261.16" x2="304.62" y2="261.53" stroke="#111" stroke-width="0.6"/><rect x="303.52" y="260.04" width="2.20" height="1.12" fill="#000"/><line x1="307.47" y1="260.18" x2="307.47" y2="261.16" stroke="#111" stroke-width="0.6"/><line x1="307.47" y1="271.61" x2="307.47" y2="273.86" stroke="#111" stroke-width="0.6"/><rect x="306.37" y="261.16" width="2.20" height="10.46" fill="#000"/><line x1="310.33" y1="270.26" x2="310.33" y2="271.61" stroke="#111" stroke-width="0.6"/><line x1="310.33" y1="273.61" x2="310.33" y2="277.44" stroke="#111" stroke-width="0.6"/><rect x="309.23" y="271.61" width="2.20" height="1.99" fill="#000"/><line x1="313.19" y1="271.33" x2="313.19" y2="273.61" stroke="#111" stroke-width="0.6"/><line x1="313.19" y1="275.24" x2="313.19" y2="275.86" stroke="#111" stroke-width="0.6"/><rect x="312.09" y="273.61" width="2.20" height="1.63" fill="#000"/><line x1="316.05" y1="270.59" x2="316.05" y2="272.86" stroke="#666" stroke-width="0.45"/><line x1="316.05" y1="275.24" x2="316.05" y2="275.51" stroke="#666" stroke-width="0.45"/><rect x="314.85" y="272.86" width="2.4" height="2.38" fill="#fff" stroke="#6a6a6a" stroke-width="0.45"/><line x1="318.90" y1="270.99" x2="318.90" y2="271.15" stroke="#666" stroke-width="0.45"/><line x1="318.90" y1="272.86" x2="318.90" y2="273.54" stroke="#666" stroke-width="0.45"/><rect x="317.70" y="271.15" width="2.4" height="1.71" fill="#fff" stroke="#6a6a6a" stroke-width="0.45"/><line x1="321.76" y1="263.90" x2="321.76" y2="265.09" stroke="#666" stroke-width="0.45"/><line x1="321.76" y1="271.15" x2="321.76" y2="271.44" stroke="#666" stroke-width="0.45"/><rect x="320.56" y="265.09" width="2.4" height="6.06" fill="#fff" stroke="#6a6a6a" stroke-width="0.45"/><line x1="324.62" y1="252.85" x2="324.62" y2="254.02" stroke="#666" stroke-width="0.45"/><line x1="324.62" y1="265.09" x2="324.62" y2="265.09" stroke="#666" stroke-width="0.45"/><rect x="323.42" y="254.02" width="2.4" height="11.07" fill="#fff" stroke="#6a6a6a" stroke-width="0.45"/><line x1="327.47" y1="242.77" x2="327.47" y2="248.57" stroke="#666" stroke-width="0.45"/><line x1="327.47" y1="254.02" x2="327.47" y2="257.25" stroke="#666" stroke-width="0.45"/><rect x="326.27" y="248.57" width="2.4" height="5.45" fill="#fff" stroke="#6a6a6a" stroke-width="0.45"/><line x1="330.33" y1="243.94" x2="330.33" y2="248.57" stroke="#111" stroke-width="0.6"/><line x1="330.33" y1="250.21" x2="330.33" y2="252.60" stroke="#111" stroke-width="0.6"/><rect x="329.23" y="248.57" width="2.20" height="1.65" fill="#000"/><line x1="333.19" y1="245.52" x2="333.19" y2="250.21" stroke="#111" stroke-width="0.6"/><line x1="333.19" y1="251.35" x2="333.19" y2="252.04" stroke="#111" stroke-width="0.6"/><rect x="332.09" y="250.21" width="2.20" height="1.14" fill="#000"/><line x1="336.04" y1="248.35" x2="336.04" y2="251.35" stroke="#111" stroke-width="0.6"/><line x1="336.04" y1="254.77" x2="336.04" y2="256.45" stroke="#111" stroke-width="0.6"/><rect x="334.94" y="251.35" width="2.20" height="3.42" fill="#000"/><line x1="338.90" y1="249.55" x2="338.90" y2="252.47" stroke="#666" stroke-width="0.45"/><line x1="338.90" y1="254.77" x2="338.90" y2="257.73" stroke="#666" stroke-width="0.45"/><rect x="337.70" y="252.47" width="2.4" height="2.30" fill="#fff" stroke="#6a6a6a" stroke-width="0.45"/><line x1="341.76" y1="251.59" x2="341.76" y2="252.47" stroke="#111" stroke-width="0.6"/><line x1="341.76" y1="256.97" x2="341.76" y2="260.25" stroke="#111" stroke-width="0.6"/><rect x="340.66" y="252.47" width="2.20" height="4.51" fill="#000"/><line x1="344.62" y1="256.33" x2="344.62" y2="256.97" stroke="#111" stroke-width="0.6"/><line x1="344.62" y1="258.05" x2="344.62" y2="260.68" stroke="#111" stroke-width="0.6"/><rect x="343.51" y="256.97" width="2.20" height="1.07" fill="#000"/><line x1="347.47" y1="251.40" x2="347.47" y2="251.96" stroke="#666" stroke-width="0.45"/><line x1="347.47" y1="258.05" x2="347.47" y2="259.21" stroke="#666" stroke-width="0.45"/><rect x="346.27" y="251.96" width="2.4" height="6.08" fill="#fff" stroke="#6a6a6a" stroke-width="0.45"/><line x1="350.33" y1="249.26" x2="350.33" y2="251.96" stroke="#111" stroke-width="0.6"/><line x1="350.33" y1="254.07" x2="350.33" y2="254.32" stroke="#111" stroke-width="0.6"/><rect x="349.23" y="251.96" width="2.20" height="2.11" fill="#000"/><line x1="353.19" y1="252.39" x2="353.19" y2="254.07" stroke="#111" stroke-width="0.6"/><line x1="353.19" y1="260.75" x2="353.19" y2="272.62" stroke="#111" stroke-width="0.6"/><rect x="352.09" y="254.07" width="2.20" height="6.68" fill="#000"/><line x1="356.04" y1="251.72" x2="356.04" y2="253.83" stroke="#666" stroke-width="0.45"/><line x1="356.04" y1="260.75" x2="356.04" y2="261.72" stroke="#666" stroke-width="0.45"/><rect x="354.84" y="253.83" width="2.4" height="6.92" fill="#fff" stroke="#6a6a6a" stroke-width="0.45"/><line x1="358.90" y1="250.21" x2="358.90" y2="251.72" stroke="#666" stroke-width="0.45"/><line x1="358.90" y1="253.83" x2="358.90" y2="255.28" stroke="#666" stroke-width="0.45"/><rect x="357.70" y="251.72" width="2.4" height="2.11" fill="#fff" stroke="#6a6a6a" stroke-width="0.45"/><line x1="361.76" y1="249.42" x2="361.76" y2="251.71" stroke="#111" stroke-width="0.6"/><line x1="361.76" y1="252.51" x2="361.76" y2="253.11" stroke="#111" stroke-width="0.6"/><rect x="360.66" y="251.71" width="2.20" height="0.80" fill="#000"/><line x1="364.61" y1="247.25" x2="364.61" y2="247.45" stroke="#666" stroke-width="0.45"/><line x1="364.61" y1="252.49" x2="364.61" y2="252.98" stroke="#666" stroke-width="0.45"/><rect x="363.41" y="247.45" width="2.4" height="5.04" fill="#fff" stroke="#6a6a6a" stroke-width="0.45"/><line x1="367.47" y1="245.24" x2="367.47" y2="246.75" stroke="#666" stroke-width="0.45"/><line x1="367.47" y1="247.55" x2="367.47" y2="248.22" stroke="#666" stroke-width="0.45"/><rect x="366.27" y="246.75" width="2.4" height="0.80" fill="#fff" stroke="#6a6a6a" stroke-width="0.45"/><line x1="370.33" y1="246.04" x2="370.33" y2="246.84" stroke="#111" stroke-width="0.6"/><line x1="370.33" y1="248.65" x2="370.33" y2="250.75" stroke="#111" stroke-width="0.6"/><rect x="369.23" y="246.84" width="2.20" height="1.81" fill="#000"/><line x1="373.19" y1="242.42" x2="373.19" y2="242.90" stroke="#666" stroke-width="0.45"/><line x1="373.19" y1="248.65" x2="373.19" y2="249.55" stroke="#666" stroke-width="0.45"/><rect x="371.99" y="242.90" width="2.4" height="5.75" fill="#fff" stroke="#6a6a6a" stroke-width="0.45"/><line x1="376.04" y1="234.85" x2="376.04" y2="234.62" stroke="#666" stroke-width="0.45"/><line x1="376.04" y1="242.90" x2="376.04" y2="243.94" stroke="#666" stroke-width="0.45"/><rect x="374.84" y="234.62" width="2.4" height="8.29" fill="#fff" stroke="#6a6a6a" stroke-width="0.45"/><line x1="378.90" y1="225.38" x2="378.90" y2="225.62" stroke="#666" stroke-width="0.45"/><line x1="378.90" y1="234.62" x2="378.90" y2="237.28" stroke="#666" stroke-width="0.45"/><rect x="377.70" y="225.62" width="2.4" height="8.99" fill="#fff" stroke="#6a6a6a" stroke-width="0.45"/><line x1="381.76" y1="217.02" x2="381.76" y2="222.54" stroke="#666" stroke-width="0.45"/><line x1="381.76" y1="225.62" x2="381.76" y2="226.35" stroke="#666" stroke-width="0.45"/><rect x="380.56" y="222.54" width="2.4" height="3.09" fill="#fff" stroke="#6a6a6a" stroke-width="0.45"/><line x1="384.61" y1="209.36" x2="384.61" y2="215.28" stroke="#666" stroke-width="0.45"/><line x1="384.61" y1="222.54" x2="384.61" y2="223.11" stroke="#666" stroke-width="0.45"/><rect x="383.41" y="215.28" width="2.4" height="7.25" fill="#fff" stroke="#6a6a6a" stroke-width="0.45"/><line x1="387.47" y1="208.00" x2="387.47" y2="209.16" stroke="#666" stroke-width="0.45"/><line x1="387.47" y1="215.28" x2="387.47" y2="215.39" stroke="#666" stroke-width="0.45"/><rect x="386.27" y="209.16" width="2.4" height="6.12" fill="#fff" stroke="#6a6a6a" stroke-width="0.45"/><line x1="390.33" y1="206.86" x2="390.33" y2="208.98" stroke="#111" stroke-width="0.6"/><line x1="390.33" y1="209.78" x2="390.33" y2="214.38" stroke="#111" stroke-width="0.6"/><rect x="389.23" y="208.98" width="2.20" height="0.80" fill="#000"/><line x1="393.18" y1="208.89" x2="393.18" y2="209.60" stroke="#111" stroke-width="0.6"/><line x1="393.18" y1="219.76" x2="393.18" y2="224.83" stroke="#111" stroke-width="0.6"/><rect x="392.08" y="209.60" width="2.20" height="10.16" fill="#000"/><line x1="396.04" y1="217.39" x2="396.04" y2="219.76" stroke="#111" stroke-width="0.6"/><line x1="396.04" y1="221.24" x2="396.04" y2="225.78" stroke="#111" stroke-width="0.6"/><rect x="394.94" y="219.76" width="2.20" height="1.48" fill="#000"/><line x1="398.90" y1="216.83" x2="398.90" y2="217.27" stroke="#666" stroke-width="0.45"/><line x1="398.90" y1="221.24" x2="398.90" y2="225.38" stroke="#666" stroke-width="0.45"/><rect x="397.70" y="217.27" width="2.4" height="3.97" fill="#fff" stroke="#6a6a6a" stroke-width="0.45"/><line x1="401.75" y1="212.70" x2="401.75" y2="214.33" stroke="#666" stroke-width="0.45"/><line x1="401.75" y1="217.27" x2="401.75" y2="219.76" stroke="#666" stroke-width="0.45"/><rect x="400.56" y="214.33" width="2.4" height="2.95" fill="#fff" stroke="#6a6a6a" stroke-width="0.45"/><line x1="404.61" y1="211.62" x2="404.61" y2="214.33" stroke="#111" stroke-width="0.6"/><line x1="404.61" y1="216.02" x2="404.61" y2="218.36" stroke="#111" stroke-width="0.6"/><rect x="403.51" y="214.33" width="2.20" height="1.69" fill="#000"/><line x1="407.47" y1="206.12" x2="407.47" y2="208.19" stroke="#666" stroke-width="0.45"/><line x1="407.47" y1="216.02" x2="407.47" y2="216.28" stroke="#666" stroke-width="0.45"/><rect x="406.27" y="208.19" width="2.4" height="7.82" fill="#fff" stroke="#6a6a6a" stroke-width="0.45"/><line x1="410.33" y1="205.44" x2="410.33" y2="208.19" stroke="#111" stroke-width="0.6"/><line x1="410.33" y1="209.89" x2="410.33" y2="211.45" stroke="#111" stroke-width="0.6"/><rect x="409.23" y="208.19" width="2.20" height="1.69" fill="#000"/><line x1="413.18" y1="209.04" x2="413.18" y2="209.89" stroke="#111" stroke-width="0.6"/><line x1="413.18" y1="214.78" x2="413.18" y2="216.99" stroke="#111" stroke-width="0.6"/><rect x="412.08" y="209.89" width="2.20" height="4.89" fill="#000"/><line x1="416.04" y1="213.89" x2="416.04" y2="214.78" stroke="#111" stroke-width="0.6"/><line x1="416.04" y1="219.02" x2="416.04" y2="222.68" stroke="#111" stroke-width="0.6"/><rect x="414.94" y="214.78" width="2.20" height="4.24" fill="#000"/><line x1="418.90" y1="214.98" x2="418.90" y2="216.34" stroke="#666" stroke-width="0.45"/><line x1="418.90" y1="219.02" x2="418.90" y2="221.71" stroke="#666" stroke-width="0.45"/><rect x="417.70" y="216.34" width="2.4" height="2.68" fill="#fff" stroke="#6a6a6a" stroke-width="0.45"/><line x1="421.75" y1="213.79" x2="421.75" y2="215.13" stroke="#666" stroke-width="0.45"/><line x1="421.75" y1="216.34" x2="421.75" y2="219.88" stroke="#666" stroke-width="0.45"/><rect x="420.55" y="215.13" width="2.4" height="1.21" fill="#fff" stroke="#6a6a6a" stroke-width="0.45"/><line x1="424.61" y1="214.18" x2="424.61" y2="215.13" stroke="#111" stroke-width="0.6"/><line x1="424.61" y1="219.51" x2="424.61" y2="219.51" stroke="#111" stroke-width="0.6"/><rect x="423.51" y="215.13" width="2.20" height="4.38" fill="#000"/><line x1="427.47" y1="218.19" x2="427.47" y2="219.51" stroke="#111" stroke-width="0.6"/><line x1="427.47" y1="223.47" x2="427.47" y2="227.54" stroke="#111" stroke-width="0.6"/><rect x="426.37" y="219.51" width="2.20" height="3.96" fill="#000"/><line x1="430.32" y1="223.40" x2="430.32" y2="223.47" stroke="#111" stroke-width="0.6"/><line x1="430.32" y1="234.38" x2="430.32" y2="237.24" stroke="#111" stroke-width="0.6"/><rect x="429.22" y="223.47" width="2.20" height="10.91" fill="#000"/><line x1="433.18" y1="229.35" x2="433.18" y2="230.71" stroke="#666" stroke-width="0.45"/><line x1="433.18" y1="234.38" x2="433.18" y2="235.71" stroke="#666" stroke-width="0.45"/><rect x="431.98" y="230.71" width="2.4" height="3.67" fill="#fff" stroke="#6a6a6a" stroke-width="0.45"/><line x1="436.04" y1="228.88" x2="436.04" y2="230.71" stroke="#111" stroke-width="0.6"/><line x1="436.04" y1="234.26" x2="436.04" y2="234.74" stroke="#111" stroke-width="0.6"/><rect x="434.94" y="230.71" width="2.20" height="3.56" fill="#000"/><line x1="438.90" y1="231.21" x2="438.90" y2="234.22" stroke="#111" stroke-width="0.6"/><line x1="438.90" y1="235.02" x2="438.90" y2="236.59" stroke="#111" stroke-width="0.6"/><rect x="437.80" y="234.22" width="2.20" height="0.80" fill="#000"/><line x1="441.75" y1="233.13" x2="441.75" y2="233.69" stroke="#666" stroke-width="0.45"/><line x1="441.75" y1="234.97" x2="441.75" y2="236.46" stroke="#666" stroke-width="0.45"/><rect x="440.55" y="233.69" width="2.4" height="1.28" fill="#fff" stroke="#6a6a6a" stroke-width="0.45"/><line x1="444.61" y1="232.58" x2="444.61" y2="233.69" stroke="#111" stroke-width="0.6"/><line x1="444.61" y1="237.78" x2="444.61" y2="240.20" stroke="#111" stroke-width="0.6"/><rect x="443.51" y="233.69" width="2.20" height="4.09" fill="#000"/><line x1="447.47" y1="236.21" x2="447.47" y2="237.78" stroke="#111" stroke-width="0.6"/><line x1="447.47" y1="238.74" x2="447.47" y2="239.03" stroke="#111" stroke-width="0.6"/><rect x="446.37" y="237.78" width="2.20" height="0.97" fill="#000"/><line x1="450.32" y1="230.12" x2="450.32" y2="230.91" stroke="#666" stroke-width="0.45"/><line x1="450.32" y1="238.74" x2="450.32" y2="238.74" stroke="#666" stroke-width="0.45"/><rect x="449.12" y="230.91" width="2.4" height="7.83" fill="#fff" stroke="#6a6a6a" stroke-width="0.45"/><line x1="453.18" y1="228.79" x2="453.18" y2="230.51" stroke="#666" stroke-width="0.45"/><line x1="453.18" y1="231.31" x2="453.18" y2="232.69" stroke="#666" stroke-width="0.45"/><rect x="451.98" y="230.51" width="2.4" height="0.80" fill="#fff" stroke="#6a6a6a" stroke-width="0.45"/><line x1="456.04" y1="225.46" x2="456.04" y2="226.02" stroke="#666" stroke-width="0.45"/><line x1="456.04" y1="230.91" x2="456.04" y2="234.74" stroke="#666" stroke-width="0.45"/><rect x="454.84" y="226.02" width="2.4" height="4.89" fill="#fff" stroke="#6a6a6a" stroke-width="0.45"/><line x1="458.90" y1="224.06" x2="458.90" y2="225.30" stroke="#666" stroke-width="0.45"/><line x1="458.90" y1="226.10" x2="458.90" y2="227.37" stroke="#666" stroke-width="0.45"/><rect x="457.70" y="225.30" width="2.4" height="0.80" fill="#fff" stroke="#6a6a6a" stroke-width="0.45"/><line x1="461.75" y1="224.98" x2="461.75" y2="225.38" stroke="#111" stroke-width="0.6"/><line x1="461.75" y1="227.11" x2="461.75" y2="228.34" stroke="#111" stroke-width="0.6"/><rect x="460.65" y="225.38" width="2.20" height="1.73" fill="#000"/><line x1="464.61" y1="223.76" x2="464.61" y2="224.44" stroke="#666" stroke-width="0.45"/><line x1="464.61" y1="227.11" x2="464.61" y2="229.26" stroke="#666" stroke-width="0.45"/><rect x="463.41" y="224.44" width="2.4" height="2.67" fill="#fff" stroke="#6a6a6a" stroke-width="0.45"/><line x1="467.47" y1="223.47" x2="467.47" y2="224.44" stroke="#111" stroke-width="0.6"/><line x1="467.47" y1="225.46" x2="467.47" y2="225.70" stroke="#111" stroke-width="0.6"/><rect x="466.37" y="224.44" width="2.20" height="1.01" fill="#000"/><line x1="470.32" y1="224.67" x2="470.32" y2="225.46" stroke="#111" stroke-width="0.6"/><line x1="470.32" y1="228.25" x2="470.32" y2="228.79" stroke="#111" stroke-width="0.6"/><rect x="469.22" y="225.46" width="2.20" height="2.79" fill="#000"/><line x1="473.18" y1="226.85" x2="473.18" y2="227.28" stroke="#666" stroke-width="0.45"/><line x1="473.18" y1="228.25" x2="473.18" y2="229.16" stroke="#666" stroke-width="0.45"/><rect x="471.98" y="227.28" width="2.4" height="0.97" fill="#fff" stroke="#6a6a6a" stroke-width="0.45"/><line x1="476.04" y1="221.24" x2="476.04" y2="221.44" stroke="#666" stroke-width="0.45"/><line x1="476.04" y1="227.28" x2="476.04" y2="227.63" stroke="#666" stroke-width="0.45"/><rect x="474.84" y="221.44" width="2.4" height="5.84" fill="#fff" stroke="#6a6a6a" stroke-width="0.45"/><line x1="478.89" y1="219.08" x2="478.89" y2="219.51" stroke="#666" stroke-width="0.45"/><line x1="478.89" y1="221.44" x2="478.89" y2="221.84" stroke="#666" stroke-width="0.45"/><rect x="477.69" y="219.51" width="2.4" height="1.93" fill="#fff" stroke="#6a6a6a" stroke-width="0.45"/><line x1="481.75" y1="215.54" x2="481.75" y2="216.83" stroke="#666" stroke-width="0.45"/><line x1="481.75" y1="219.51" x2="481.75" y2="219.57" stroke="#666" stroke-width="0.45"/><rect x="480.55" y="216.83" width="2.4" height="2.68" fill="#fff" stroke="#6a6a6a" stroke-width="0.45"/><line x1="484.61" y1="213.41" x2="484.61" y2="216.35" stroke="#666" stroke-width="0.45"/><line x1="484.61" y1="217.15" x2="484.61" y2="219.02" stroke="#666" stroke-width="0.45"/><rect x="483.41" y="216.35" width="2.4" height="0.80" fill="#fff" stroke="#6a6a6a" stroke-width="0.45"/><line x1="487.47" y1="207.19" x2="487.47" y2="208.23" stroke="#666" stroke-width="0.45"/><line x1="487.47" y1="216.66" x2="487.47" y2="217.05" stroke="#666" stroke-width="0.45"/><rect x="486.27" y="208.23" width="2.4" height="8.43" fill="#fff" stroke="#6a6a6a" stroke-width="0.45"/><line x1="490.32" y1="203.87" x2="490.32" y2="204.67" stroke="#666" stroke-width="0.45"/><line x1="490.32" y1="208.23" x2="490.32" y2="209.08" stroke="#666" stroke-width="0.45"/><rect x="489.12" y="204.67" width="2.4" height="3.56" fill="#fff" stroke="#6a6a6a" stroke-width="0.45"/><line x1="493.18" y1="204.19" x2="493.18" y2="204.67" stroke="#111" stroke-width="0.6"/><line x1="493.18" y1="208.42" x2="493.18" y2="210.09" stroke="#111" stroke-width="0.6"/><rect x="492.08" y="204.67" width="2.20" height="3.75" fill="#000"/><line x1="496.04" y1="204.45" x2="496.04" y2="205.95" stroke="#666" stroke-width="0.45"/><line x1="496.04" y1="208.42" x2="496.04" y2="210.05" stroke="#666" stroke-width="0.45"/><rect x="494.84" y="205.95" width="2.4" height="2.47" fill="#fff" stroke="#6a6a6a" stroke-width="0.45"/><line x1="498.89" y1="204.45" x2="498.89" y2="205.95" stroke="#111" stroke-width="0.6"/><line x1="498.89" y1="207.63" x2="498.89" y2="209.28" stroke="#111" stroke-width="0.6"/><rect x="497.79" y="205.95" width="2.20" height="1.68" fill="#000"/><line x1="501.75" y1="205.10" x2="501.75" y2="206.90" stroke="#666" stroke-width="0.45"/><line x1="501.75" y1="207.70" x2="501.75" y2="211.36" stroke="#666" stroke-width="0.45"/><rect x="500.55" y="206.90" width="2.4" height="0.80" fill="#fff" stroke="#6a6a6a" stroke-width="0.45"/><line x1="504.61" y1="206.83" x2="504.61" y2="206.97" stroke="#111" stroke-width="0.6"/><line x1="504.61" y1="209.12" x2="504.61" y2="213.41" stroke="#111" stroke-width="0.6"/><rect x="503.51" y="206.97" width="2.20" height="2.15" fill="#000"/><line x1="507.46" y1="206.30" x2="507.46" y2="207.44" stroke="#666" stroke-width="0.45"/><line x1="507.46" y1="209.12" x2="507.46" y2="211.76" stroke="#666" stroke-width="0.45"/><rect x="506.26" y="207.44" width="2.4" height="1.68" fill="#fff" stroke="#6a6a6a" stroke-width="0.45"/><line x1="510.32" y1="203.94" x2="510.32" y2="205.04" stroke="#666" stroke-width="0.45"/><line x1="510.32" y1="207.44" x2="510.32" y2="209.12" stroke="#666" stroke-width="0.45"/><rect x="509.12" y="205.04" width="2.4" height="2.41" fill="#fff" stroke="#6a6a6a" stroke-width="0.45"/><line x1="513.18" y1="196.89" x2="513.18" y2="197.65" stroke="#666" stroke-width="0.45"/><line x1="513.18" y1="205.04" x2="513.18" y2="206.19" stroke="#666" stroke-width="0.45"/><rect x="511.98" y="197.65" width="2.4" height="7.38" fill="#fff" stroke="#6a6a6a" stroke-width="0.45"/><line x1="516.04" y1="194.94" x2="516.04" y2="197.62" stroke="#111" stroke-width="0.6"/><line x1="516.04" y1="198.42" x2="516.04" y2="199.12" stroke="#111" stroke-width="0.6"/><rect x="514.94" y="197.62" width="2.20" height="0.80" fill="#000"/><line x1="518.89" y1="194.71" x2="518.89" y2="196.25" stroke="#666" stroke-width="0.45"/><line x1="518.89" y1="198.39" x2="518.89" y2="199.46" stroke="#666" stroke-width="0.45"/><rect x="517.69" y="196.25" width="2.4" height="2.14" fill="#fff" stroke="#6a6a6a" stroke-width="0.45"/><line x1="521.75" y1="196.23" x2="521.75" y2="196.25" stroke="#111" stroke-width="0.6"/><line x1="521.75" y1="200.78" x2="521.75" y2="202.52" stroke="#111" stroke-width="0.6"/><rect x="520.65" y="196.25" width="2.20" height="4.53" fill="#000"/><line x1="524.61" y1="197.99" x2="524.61" y2="200.63" stroke="#111" stroke-width="0.6"/><line x1="524.61" y1="201.43" x2="524.61" y2="203.01" stroke="#111" stroke-width="0.6"/><rect x="523.51" y="200.63" width="2.20" height="0.80" fill="#000"/><line x1="527.46" y1="197.80" x2="527.46" y2="198.19" stroke="#666" stroke-width="0.45"/><line x1="527.46" y1="201.28" x2="527.46" y2="203.68" stroke="#666" stroke-width="0.45"/><rect x="526.26" y="198.19" width="2.4" height="3.09" fill="#fff" stroke="#6a6a6a" stroke-width="0.45"/><line x1="530.32" y1="194.18" x2="530.32" y2="195.75" stroke="#666" stroke-width="0.45"/><line x1="530.32" y1="198.19" x2="530.32" y2="198.41" stroke="#666" stroke-width="0.45"/><rect x="529.12" y="195.75" width="2.4" height="2.44" fill="#fff" stroke="#6a6a6a" stroke-width="0.45"/><line x1="533.18" y1="194.45" x2="533.18" y2="195.08" stroke="#666" stroke-width="0.45"/><line x1="533.18" y1="195.88" x2="533.18" y2="197.22" stroke="#666" stroke-width="0.45"/><rect x="531.98" y="195.08" width="2.4" height="0.80" fill="#fff" stroke="#6a6a6a" stroke-width="0.45"/><line x1="536.03" y1="191.94" x2="536.03" y2="193.41" stroke="#666" stroke-width="0.45"/><line x1="536.03" y1="195.20" x2="536.03" y2="195.64" stroke="#666" stroke-width="0.45"/><rect x="534.83" y="193.41" width="2.4" height="1.80" fill="#fff" stroke="#6a6a6a" stroke-width="0.45"/><line x1="538.89" y1="191.70" x2="538.89" y2="193.20" stroke="#111" stroke-width="0.6"/><line x1="538.89" y1="194.00" x2="538.89" y2="194.18" stroke="#111" stroke-width="0.6"/><rect x="537.79" y="193.20" width="2.20" height="0.80" fill="#000"/>
</g>
</svg>
<div class="pl" style="top:36.9px">85,000,000</div>
<div class="pl" style="top:50.3px">47,500,000</div>
<div class="pl" style="top:64.6px">25,500,000</div>
<div class="pl" style="top:77.9px">14,500,000</div>
<div class="pl" style="top:91.4px">8,000,000</div>
<div class="pl" style="top:104.9px">4,500,000</div>
<div class="pl" style="top:118.4px">2,500,000</div>
<div class="pl" style="top:131.9px">1,400,000</div>
<div class="pl" style="top:145.9px">750,000</div>
<div class="pl" style="top:159.4px">425,000</div>
<div class="pl" style="top:173.4px">225,000</div>
<div class="pl" style="top:201.9px">69,000</div>
<div class="pl" style="top:215.4px">39,000</div>
<div class="pl" style="top:229.4px">21,000</div>
<div class="pl" style="top:243.4px">11,000</div>
<div class="pl" style="top:257.4px">6,200</div>
<div class="pl" style="top:271.4px">3,400</div>
<div class="pl" style="top:285.5px">1,900</div>
<div class="pl" style="top:300.4px">1,000</div>
<div class="pl" style="top:314.4px">560</div>
<div class="pl" style="top:329.0px">300</div>
<div class="pl" style="top:342.4px">170</div>
<div class="pl" style="top:355.9px">95</div>
<div class="pl" style="top:369.4px">51</div>
<div class="pl" style="top:382.9px">29</div>
<div class="pl" style="top:396.4px">16</div>
<div class="pl" style="top:409.9px">9</div>
<div class="pl" style="top:423.9px">5</div>
<div class="pl" style="top:445.8px">2</div>
<div style="position:absolute;left:636px;top:25.5px;width:38px;height:4px;overflow:hidden"><div class="pl" style="left:3px;top:-2.5px">150,000,000</div></div>
<div class="pl" style="top:15.9px;left:639.8px;font-size:6.5px;color:#333;-webkit-text-stroke:0.05px #333">USD</div>
<div class="yl" style="left:72.9px">2012</div>
<div class="yl" style="left:107.2px">2013</div>
<div class="yl" style="left:141.5px">2014</div>
<div class="yl" style="left:175.8px">2015</div>
<div class="yl" style="left:210.0px">2016</div>
<div class="yl" style="left:244.3px">2017</div>
<div class="yl" style="left:278.6px">2018</div>
<div class="yl" style="left:312.9px">2019</div>
<div class="yl" style="left:347.2px">2020</div>
<div class="yl" style="left:381.5px">2021</div>
<div class="yl" style="left:415.7px">2022</div>
<div class="yl" style="left:450.0px">2023</div>
<div class="yl" style="left:484.3px">2024</div>
<div class="yl" style="left:518.6px">2025</div>
<div class="yl" style="left:552.9px">2026</div>
<div class="yl" style="left:587.2px">2027</div>
<div class="yl" style="left:621.4px">2028</div>
<div style="position:absolute;left:292px;top:88px;width:42px;height:26px;border:1px solid #6b9c70;background:#fbfdfb;box-sizing:border-box;"></div>
<div class="t" style="left:296px;top:94.6px;font-size:16.8px;font-weight:bold;color:#111;">BTC</div>
<div class="ann" style="left:90.4px;top:280.2px">BTC CYCLE TOP (DEC 13)</div>
<svg style="position:absolute;left:134.9px;top:289.3px" width="8" height="9" viewBox="0 0 8 9"><path d="M2,0 H6 V4.3 H7.8 L4,8.8 L0.2,4.3 H2 Z" fill="#d62e3c"/></svg>
<div class="ann" style="left:227.4px;top:212.4px">BTC CYCLE TOP (DEC 17)</div>
<svg style="position:absolute;left:271.7px;top:221.6px" width="8" height="9" viewBox="0 0 8 9"><path d="M2,0 H6 V4.3 H7.8 L4,8.8 L0.2,4.3 H2 Z" fill="#d62e3c"/></svg>
<div class="ann" style="left:361.4px;top:185.6px">BTC CYCLE TOP (NOV 21)</div>
<svg style="position:absolute;left:406.4px;top:194.8px" width="8" height="9" viewBox="0 0 8 9"><path d="M2,0 H6 V4.3 H7.8 L4,8.8 L0.2,4.3 H2 Z" fill="#d62e3c"/></svg>
<div class="ann" style="left:494.4px;top:168.9px">POTENTIAL BTC CYCLE TOP</div>
<svg style="position:absolute;left:543.4px;top:178.2px" width="8" height="9" viewBox="0 0 8 9"><path d="M2,0 H6 V4.3 H7.8 L4,8.8 L0.2,4.3 H2 Z" fill="#d62e3c"/></svg>
<div class="t" style="left:609.5px;top:190px;width:24px;height:7px;background:#343434;color:#e0e0e0;font-size:5.6px;text-align:center;line-height:7px;border-radius:1px">BTCUSD</div>
<div class="t" style="left:634.5px;top:190px;width:26.5px;height:12.5px;background:#262626;color:#ddd;font-size:6px;border-radius:1px"><div style="position:absolute;left:3.5px;top:1.3px">113,801</div><div style="position:absolute;left:3.5px;top:6.8px">11d 12h</div></div>
<svg style="position:absolute;left:4px;top:484px" width="16" height="10" viewBox="0 0 16 10"><path d="M1,1.2 H6.5 V8 H3.9 V3.9 H1 Z" fill="#eee"/><circle cx="8.5" cy="2.9" r="1.3" fill="#eee"/><path d="M10.8,1.2 H14 L11.4,8 H8.9 Z" fill="#eee"/></svg>
<div class="t" style="left:21.6px;top:485.1px;font-size:8.9px;font-weight:bold;color:#dedede;">TradingView</div>
</body></html>
